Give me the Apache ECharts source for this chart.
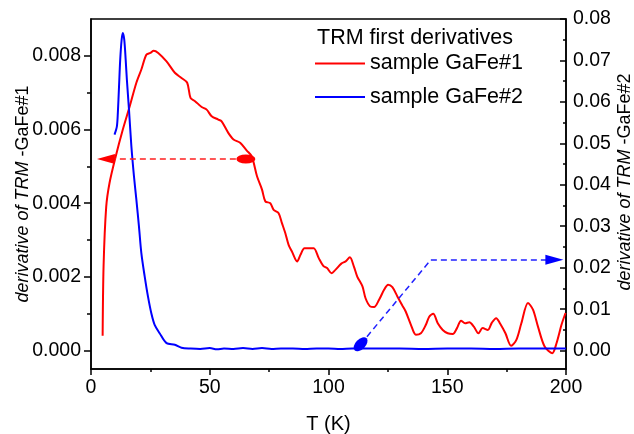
<!DOCTYPE html>
<html>
<head>
<meta charset="utf-8">
<script src="https://cdn.jsdelivr.net/npm/echarts@6/dist/echarts.min.js"></script>
<style>html,body{margin:0;padding:0;background:#fff;}#c{width:634px;height:434px;}</style>
</head>
<body>
<div id="c"></div>
<script>
// Sample GaFe#1 (left axis)
const redT = [4.9, 5.3, 6.4, 7.8, 10.4, 13.4, 16.3, 19.1, 21.2, 23.3,
  25.0, 26.4, 28.3, 31.8, 35.3, 38.1, 40.5, 41.9, 43.8, 46.6,
  48.7, 50.8, 53.6, 55.0, 57.8, 60.0, 62.8, 65.6, 67.7, 69.9,
  72.0, 73.4, 75.5, 76.9, 79.0, 80.4, 81.8, 83.2, 84.6, 86.8,
  88.2, 89.9, 92.4, 93.8, 95.9, 97.8, 99.4, 101.3, 102.9, 105.4,
  107.2, 109.0, 110.7, 112.1, 114.3, 115.6, 117.5, 119.2, 121.3, 123.4,
  125.1, 126.9, 129.0, 131.2, 132.5, 134.7, 136.8, 138.9, 141.0, 142.4,
  144.1, 146.0, 148.1, 150.2, 152.3, 154.1, 155.8, 157.5, 159.3, 161.2,
  163.1, 164.9, 167.1, 168.8, 170.6, 172.3, 174.5, 176.9, 179.1, 181.2,
  184.0, 186.1, 188.2, 191.0, 194.2, 196.0, 198.1, 199.8];
const redV = [0.0004, 0.0023, 0.0039, 0.00455, 0.00527, 0.0060, 0.00663, 0.00727, 0.00763, 0.00803,
  0.00808, 0.00814, 0.00808, 0.00785, 0.00754, 0.0074, 0.00727, 0.00686, 0.00677, 0.00661,
  0.00654, 0.00636, 0.00627, 0.00622, 0.00591, 0.00573, 0.00564, 0.00543, 0.00527, 0.00473,
  0.00437, 0.00405, 0.004, 0.00382, 0.00373, 0.00346, 0.00319, 0.00287, 0.00269, 0.00242,
  0.0026, 0.00278, 0.00278, 0.00278, 0.00251, 0.0023, 0.00224, 0.0021, 0.00219, 0.00236,
  0.00242, 0.00253, 0.00228, 0.00201, 0.00174, 0.00142, 0.0012, 0.00118, 0.00138, 0.00165,
  0.00179, 0.00172, 0.00147, 0.00121, 0.00106, 0.0007, 0.00043, 0.00047, 0.0007, 0.00092,
  0.001, 0.00074, 0.00056, 0.00047, 0.00045, 0.00061, 0.00081, 0.00074, 0.00077, 0.00065,
  0.00047, 0.00061, 0.00056, 0.00076, 0.00088, 0.00073, 0.00047, 0.00013, 0.00029, 0.00074,
  0.00129, 0.00111, 0.00065, 0.00011, -0.00007, 0.0002, 0.0007, 0.00102];

// Sample GaFe#2 (right axis)
const blueT = [9.9, 10.9, 11.3, 11.8, 12.3, 12.9, 13.4, 14.0, 14.6, 15.1,
  16.0, 17.0, 18.1, 19.1, 20.2, 21.2, 22.6, 24.0, 25.4, 26.8,
  28.9, 31.8, 35.3, 38.1,
  42, 46, 50, 53, 56, 60, 64, 68, 72, 76,
  80, 85, 90, 95, 100, 105, 110, 115, 120, 130,
  140, 150, 160, 170, 180, 190, 200];
const blueV = [0.0521, 0.0541, 0.0573, 0.0637, 0.0702, 0.075, 0.0766, 0.075, 0.0702, 0.0654,
  0.0581, 0.0493, 0.042, 0.0364, 0.0299, 0.0235, 0.0179, 0.013, 0.009, 0.0062,
  0.0042, 0.0018, 0.0014, 0.0007,
  0.0005, 0.0004, 0.0006, 0.0003, 0.0005, 0.0004, 0.0006, 0.0004, 0.0006, 0.0004,
  0.0005, 0.0005, 0.0004, 0.0005, 0.0005, 0.0004, 0.0005, 0.0005, 0.0005, 0.0005,
  0.0004, 0.0005, 0.0005, 0.0004, 0.0005, 0.0005, 0.0005];

// Tick values
const leftMajor = [0, 0.002, 0.004, 0.006, 0.008];
const leftMinor = [0.001, 0.003, 0.005, 0.007];
const rightMajor = [0, 0.01, 0.02, 0.03, 0.04, 0.05, 0.06, 0.07, 0.08];
const rightMinor = [0.005, 0.015, 0.025, 0.035, 0.045, 0.055, 0.065, 0.075];

// Annotation anchors (data coordinates)
const redEllipse = [65.2, 0.0052];
const redArrow = [6.3, 0.0052];
const blueEllipse = [113.5, 0.0015];
const blueCorner = [143.1, 0.0219];
const blueArrow = [195.1, 0.0219];

const FONT = 'Liberation Sans, Arial, sans-serif';
const pairs = (xs, ys) => xs.map((x, i) => [x, ys[i]]);

const chart = echarts.init(document.getElementById('c'), null, {renderer: 'canvas'});
const axisLineStyle = {color: '#000', width: 1.5};

chart.setOption({
  animation: false,
  backgroundColor: '#fff',
  textStyle: {fontFamily: FONT, color: '#000'},
  title: {
    text: 'TRM first derivatives', left: 317, top: 27, padding: 0,
    textStyle: {fontFamily: FONT, fontSize: 21.5, fontWeight: 'normal', color: '#000'}
  },
  legend: {
    orient: 'vertical', left: 315, top: 52.5, padding: 0,
    itemWidth: 50, itemHeight: 2, itemGap: 11.5, icon: 'rect',
    textStyle: {fontFamily: FONT, fontSize: 21.5, color: '#000'},
    data: ['sample GaFe#1', 'sample GaFe#2']
  },
  grid: {left: 91, right: 68, top: 19, bottom: 65, containLabel: false, outerBoundsMode: 'none',
    show: true, borderColor: '#000', borderWidth: 1.5, backgroundColor: 'transparent'},
  xAxis: [{
    type: 'value', min: 0, max: 200, interval: 50, position: 'bottom',
    axisLine: {onZero: false, lineStyle: axisLineStyle},
    axisTick: {length: 6, lineStyle: axisLineStyle},
    minorTick: {show: true, splitNumber: 2, length: 3, lineStyle: axisLineStyle},
    splitLine: {show: false}, minorSplitLine: {show: false},
    axisLabel: {fontFamily: FONT, fontSize: 19.5, color: '#000', margin: 9},
    name: 'T (K)', nameLocation: 'middle', nameGap: 45, nameMoveOverlap: false,
    nameTextStyle: {fontFamily: FONT, fontSize: 20, color: '#000'}
  }],
  yAxis: [{
    type: 'value', position: 'left', min: -0.0005, max: 0.009,
    axisLine: {show: true, onZero: false, lineStyle: axisLineStyle},
    axisTick: {show: true, length: 7, customValues: leftMajor, lineStyle: axisLineStyle},
    axisLabel: {customValues: leftMajor, fontFamily: FONT, fontSize: 19.5, color: '#000', margin: 10,
      formatter: v => v.toFixed(3)},
    splitLine: {show: false},
    name: '{i|derivative of TRM} -GaFe#1', nameLocation: 'middle', nameGap: 59, nameRotate: 90,
    nameMoveOverlap: false,
    nameTextStyle: {fontFamily: FONT, fontSize: 18, color: '#000',
      rich: {i: {fontFamily: FONT, fontSize: 18, fontStyle: 'italic', color: '#000'}}}
  }, {
    type: 'value', position: 'right', min: -0.08 * 0.0005 / 0.009, max: 0.08,
    axisLine: {show: true, onZero: false, lineStyle: axisLineStyle},
    axisTick: {show: true, inside: true, length: 6, customValues: rightMajor, lineStyle: axisLineStyle},
    axisLabel: {customValues: rightMajor, fontFamily: FONT, fontSize: 19.5, color: '#000', margin: 7,
      formatter: v => v.toFixed(2)},
    splitLine: {show: false},
    name: '{i|derivative of TRM} -GaFe#2', nameLocation: 'middle', nameGap: 50, nameRotate: 90,
    nameMoveOverlap: false,
    nameTextStyle: {fontFamily: FONT, fontSize: 18, color: '#000', padding: [0, 0, 0, 24],
      rich: {i: {fontFamily: FONT, fontSize: 18, fontStyle: 'italic', color: '#000'}}}
  }, {
    type: 'value', position: 'left', min: -0.0005, max: 0.009,
    axisLine: {show: false, onZero: false},
    axisTick: {show: true, length: 4, customValues: leftMinor, lineStyle: axisLineStyle},
    axisLabel: {show: false}, splitLine: {show: false}
  }, {
    type: 'value', position: 'right', min: -0.08 * 0.0005 / 0.009, max: 0.08,
    axisLine: {show: false, onZero: false},
    axisTick: {show: true, inside: true, length: 3, customValues: rightMinor, lineStyle: axisLineStyle},
    axisLabel: {show: false}, splitLine: {show: false}
  }],
  series: [{
    name: 'sample GaFe#1', type: 'line', xAxisIndex: 0, yAxisIndex: 0,
    data: pairs(redT, redV), symbol: 'none', smooth: 0.3,
    color: '#ff0000', lineStyle: {color: '#ff0000', width: 2},
    markLine: {
      silent: true, symbol: ['none', 'none'], label: {show: false},
      lineStyle: {color: '#ff2020', width: 1.5, type: [6, 4]},
      data: [[{coord: redEllipse}, {coord: [redArrow[0] + 3, redArrow[1]]}]]
    },
    markPoint: {
      silent: true, label: {show: false},
      itemStyle: {color: '#ff0000'},
      data: [
        {coord: redEllipse, symbol: 'circle', symbolSize: [19, 9]},
        {coord: redArrow, symbol: 'triangle', symbolSize: [10, 18], symbolRotate: 90}
      ]
    }
  }, {
    name: 'sample GaFe#2', type: 'line', xAxisIndex: 0, yAxisIndex: 1,
    data: pairs(blueT, blueV), symbol: 'none', smooth: 0.3,
    color: '#0000ff', lineStyle: {color: '#0000ff', width: 2},
    markLine: {
      silent: true, symbol: ['none', 'none'], label: {show: false},
      lineStyle: {color: '#2020ff', width: 1.5, type: [6, 4]},
      data: [
        [{coord: blueEllipse}, {coord: blueCorner}],
        [{coord: blueCorner}, {coord: [blueArrow[0] - 3, blueArrow[1]]}]
      ]
    },
    markPoint: {
      silent: true, label: {show: false},
      itemStyle: {color: '#0000ff'},
      data: [
        {coord: blueEllipse, symbol: 'circle', symbolSize: [17, 10], symbolRotate: 45},
        {coord: blueArrow, symbol: 'triangle', symbolSize: [10, 18], symbolRotate: -90}
      ]
    }
  }]
});
</script>
</body>
</html>
